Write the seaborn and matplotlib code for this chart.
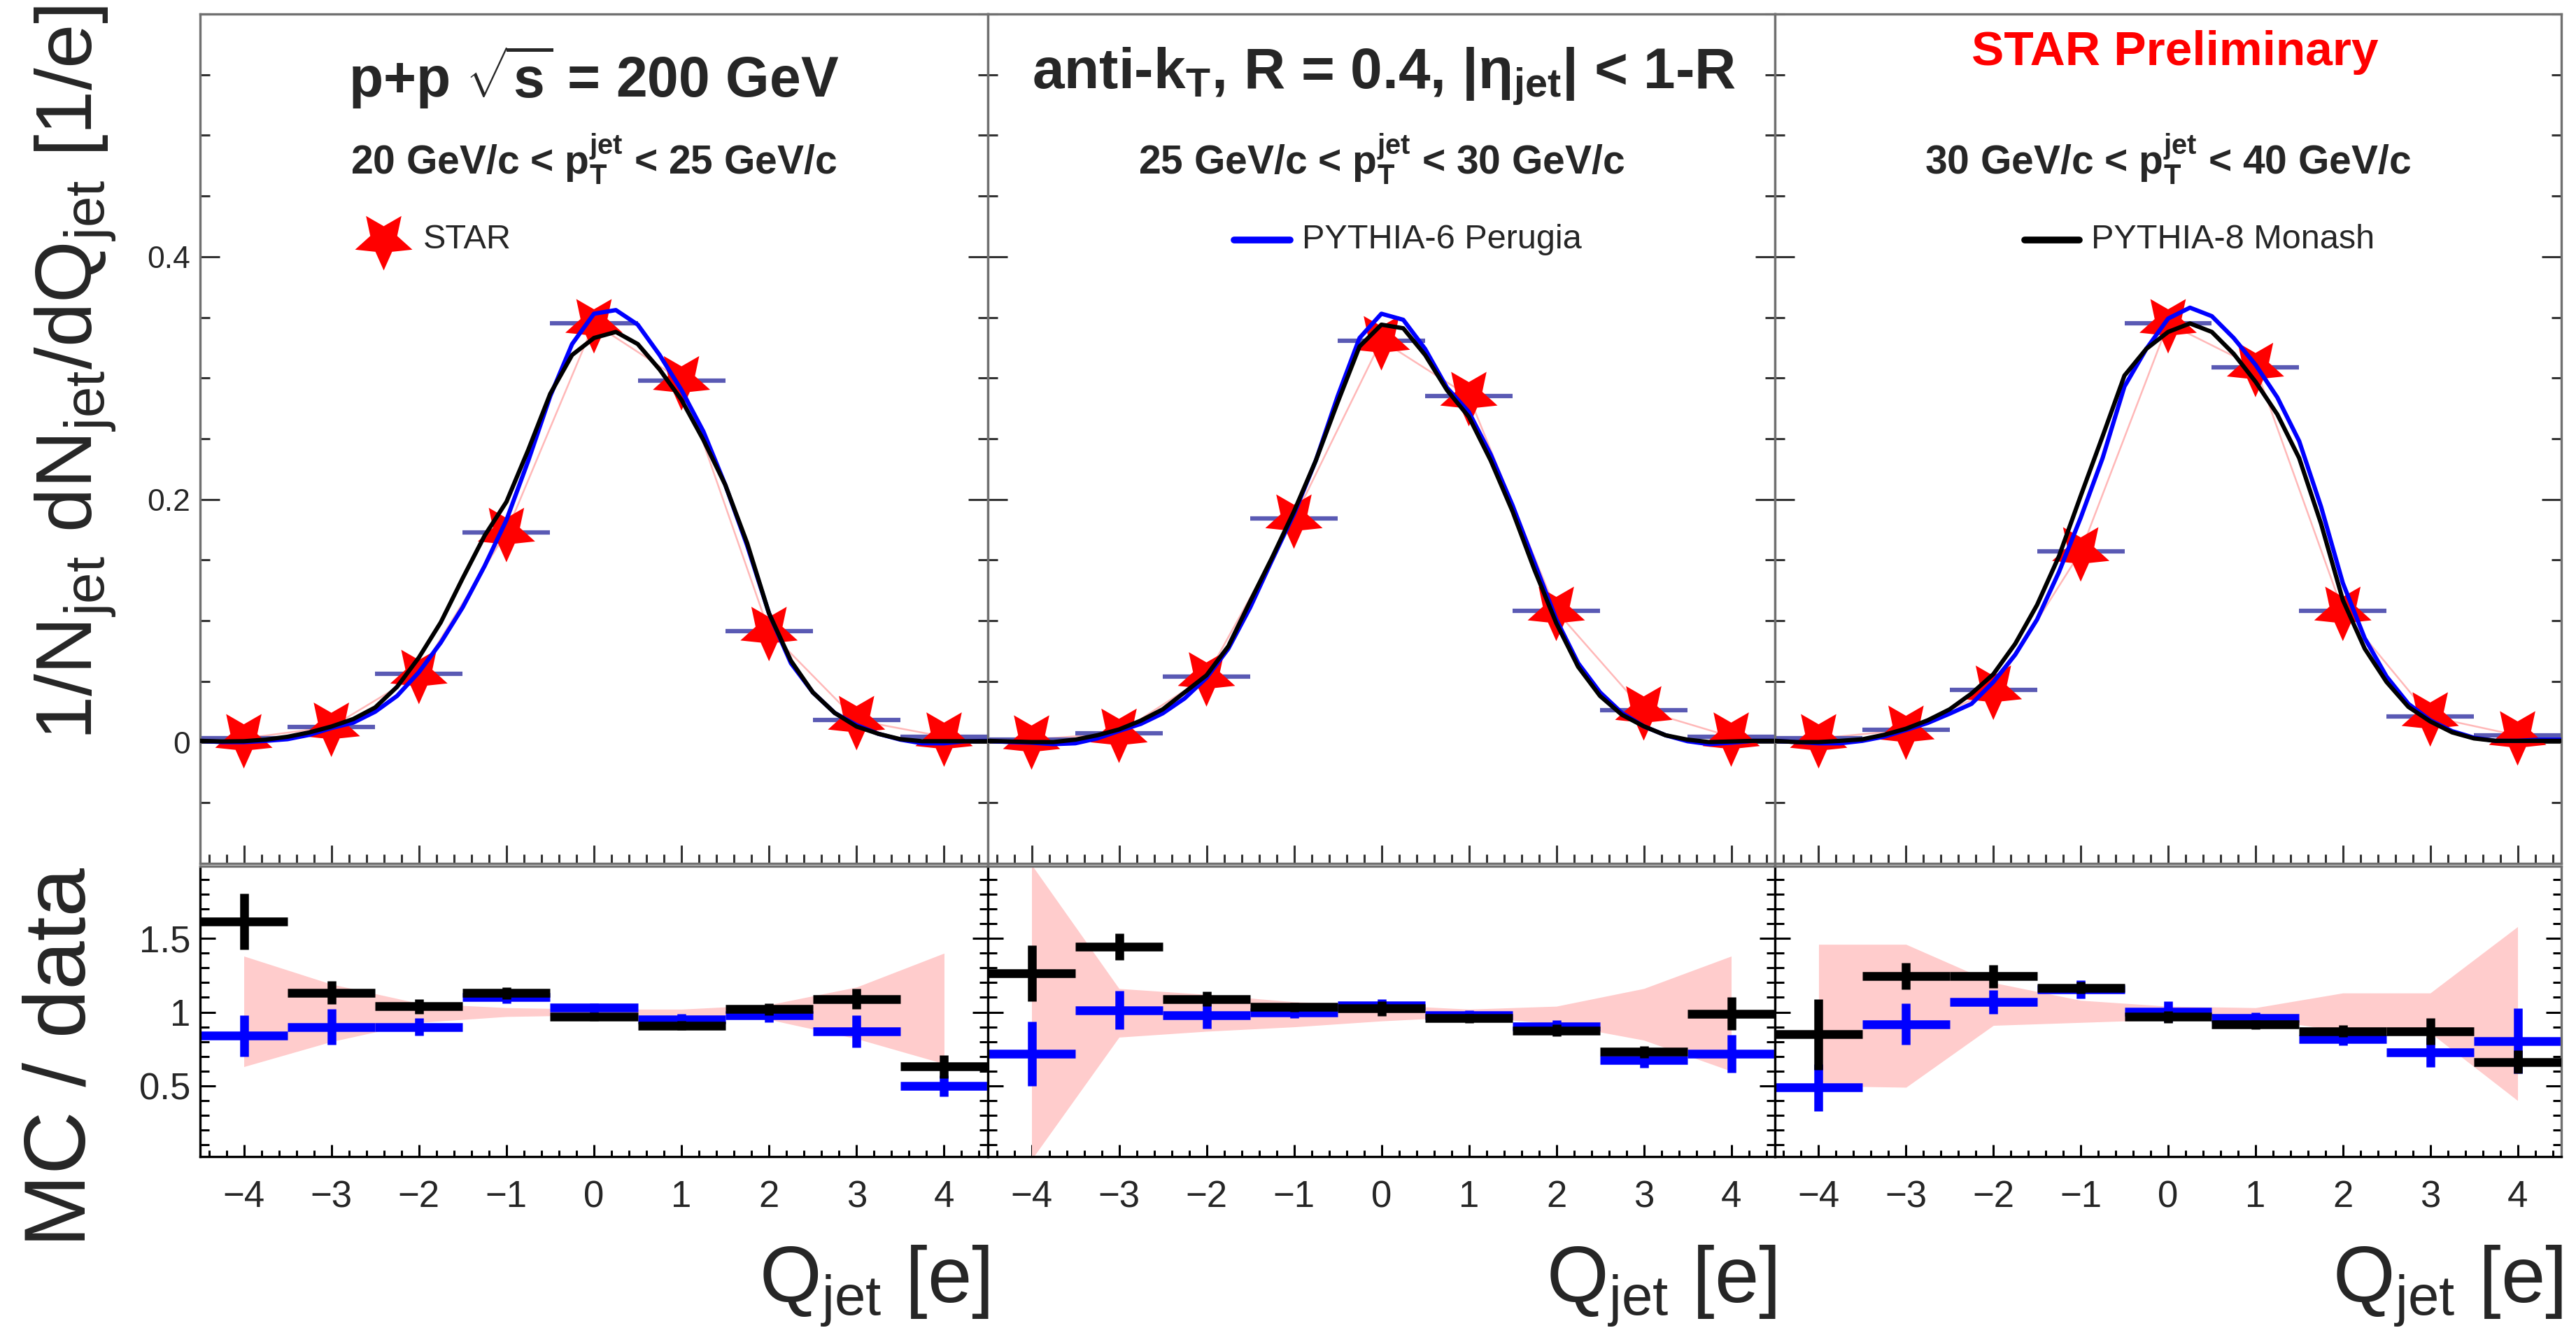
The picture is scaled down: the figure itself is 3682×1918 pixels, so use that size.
import numpy as np
import pandas as pd
import matplotlib
matplotlib.use("Agg")
import matplotlib.pyplot as plt
from matplotlib.markers import MarkerStyle
from matplotlib.path import Path
from matplotlib.ticker import MultipleLocator, FixedLocator, NullFormatter
import seaborn as sns

# ---------------- data ----------------
q_bins = [-4, -3, -2, -1, 0, 1, 2, 3, 4]
q_curve = [-4.5, -4.25, -4.0, -3.75, -3.5, -3.25, -3.0, -2.75, -2.5, -2.25, -2.0,
           -1.75, -1.5, -1.25, -1.0, -0.75, -0.5, -0.25, 0.0, 0.25, 0.5, 0.75,
           1.0, 1.25, 1.5, 1.75, 2.0, 2.25, 2.5, 2.75, 3.0, 3.25, 3.5, 3.75,
           4.0, 4.25, 4.5]

pt_titles = ["20 GeV/c < p$_{\\mathbf{T}}^{\\mathbf{jet}}$ < 25 GeV/c",
             "25 GeV/c < p$_{\\mathbf{T}}^{\\mathbf{jet}}$ < 30 GeV/c",
             "30 GeV/c < p$_{\\mathbf{T}}^{\\mathbf{jet}}$ < 40 GeV/c"]

star_pt1 = [0.003, 0.0125, 0.056, 0.173, 0.345, 0.298, 0.0914, 0.018, 0.0044]
star_pt2 = [0.002, 0.0075, 0.054, 0.184, 0.331, 0.285, 0.108, 0.026, 0.0044]
star_pt3 = [0.003, 0.010, 0.043, 0.157, 0.345, 0.309, 0.108, 0.021, 0.0054]

py6_pt1 = [0.001, 0.0, 0.0, 0.001, 0.0024, 0.006, 0.0116, 0.016, 0.025, 0.038, 0.0576,
           0.082, 0.111, 0.145, 0.183, 0.232, 0.285, 0.328, 0.353, 0.356, 0.344, 0.319,
           0.290, 0.256, 0.212, 0.162, 0.106, 0.065, 0.041, 0.024, 0.014, 0.0068, 0.002,
           -0.001, -0.001, 0.0007, 0.001]
py8_pt1 = [0.001, 0.0005, 0.0007, 0.002, 0.0044, 0.008, 0.0128, 0.019, 0.0285, 0.0455, 0.0697,
           0.0987, 0.135, 0.170, 0.198, 0.241, 0.287, 0.319, 0.333, 0.338, 0.328, 0.307,
           0.282, 0.249, 0.212, 0.164, 0.106, 0.067, 0.041, 0.024, 0.0128, 0.0068, 0.0024,
           0.0007, 0.0007, 0.0007, 0.0007]
py6_pt2 = [0.001, 0.0, -0.0005, -0.0017, -0.001, 0.003, 0.0092, 0.015, 0.0237, 0.036, 0.053,
           0.077, 0.111, 0.150, 0.188, 0.232, 0.285, 0.333, 0.353, 0.348, 0.324, 0.292,
           0.272, 0.237, 0.195, 0.148, 0.101, 0.065, 0.041, 0.024, 0.013, 0.0056, 0.0007,
           -0.0017, -0.0005, 0.001, 0.001]
py8_pt2 = [0.001, 0.0005, 0.0, 0.0, 0.002, 0.0056, 0.0104, 0.0177, 0.027, 0.041, 0.055,
           0.079, 0.116, 0.152, 0.190, 0.232, 0.280, 0.326, 0.344, 0.341, 0.319, 0.290,
           0.268, 0.232, 0.190, 0.142, 0.098, 0.062, 0.038, 0.0225, 0.013, 0.0056, 0.002,
           0.0, 0.0005, 0.001, 0.001]
py6_pt3 = [0.001, 0.0, -0.001, -0.001, 0.001, 0.0045, 0.010, 0.0158, 0.0234, 0.0315, 0.0495,
           0.072, 0.101, 0.140, 0.185, 0.234, 0.293, 0.324, 0.349, 0.358, 0.351, 0.333,
           0.311, 0.284, 0.248, 0.194, 0.131, 0.0856, 0.054, 0.0315, 0.018, 0.009, 0.0036,
           0.001, 0.001, 0.002, 0.002]
py8_pt3 = [0.001, 0.0, 0.0, 0.001, 0.0023, 0.006, 0.011, 0.018, 0.027, 0.040, 0.056,
           0.081, 0.113, 0.153, 0.203, 0.252, 0.302, 0.324, 0.338, 0.345, 0.338, 0.320,
           0.297, 0.270, 0.234, 0.180, 0.117, 0.077, 0.0495, 0.029, 0.017, 0.008, 0.003,
           0.001, 0.001, 0.001, 0.001]

# ratio MC / data
r8_pt1 = [1.615, 1.133, 1.04, 1.13, 0.97, 0.91, 1.02, 1.09, 0.63]
r8e_pt1 = [0.19, 0.08, 0.05, 0.04, 0.03, 0.03, 0.04, 0.07, 0.08]
r6_pt1 = [0.84, 0.90, 0.90, 1.10, 1.03, 0.95, 0.98, 0.87, 0.50]
r6e_pt1 = [0.14, 0.12, 0.06, 0.04, 0.03, 0.04, 0.05, 0.11, 0.07]
r8_pt2 = [1.265, 1.444, 1.09, 1.035, 1.024, 0.958, 0.875, 0.73, 0.99]
r8e_pt2 = [0.19, 0.09, 0.05, 0.03, 0.05, 0.03, 0.04, 0.04, 0.11]
r6_pt2 = [0.718, 1.013, 0.98, 1.0, 1.046, 0.98, 0.904, 0.674, 0.718]
r6e_pt2 = [0.22, 0.13, 0.09, 0.04, 0.04, 0.03, 0.04, 0.05, 0.13]
r8_pt3 = [0.85, 1.243, 1.243, 1.166, 0.969, 0.915, 0.871, 0.871, 0.663]
r8e_pt3 = [0.24, 0.09, 0.08, 0.04, 0.04, 0.03, 0.04, 0.09, 0.08]
r6_pt3 = [0.488, 0.919, 1.07, 1.155, 1.002, 0.958, 0.816, 0.729, 0.805]
r6e_pt3 = [0.16, 0.14, 0.08, 0.06, 0.07, 0.04, 0.04, 0.10, 0.22]

# data uncertainty band (relative)
band_hi_pt1 = [1.38, 1.19, 1.06, 1.03, 1.02, 1.02, 1.05, 1.17, 1.40]
band_lo_pt1 = [0.63, 0.80, 0.93, 0.97, 0.98, 0.98, 0.95, 0.82, 0.65]
band_hi_pt2 = [2.00, 1.16, 1.12, 1.07, 1.05, 1.02, 1.04, 1.16, 1.38]
band_lo_pt2 = [0.00, 0.83, 0.87, 0.90, 0.94, 0.97, 0.92, 0.81, 0.60]
band_hi_pt3 = [1.46, 1.46, 1.20, 1.08, 1.04, 1.03, 1.13, 1.13, 1.58]
band_lo_pt3 = [0.50, 0.49, 0.91, 0.93, 0.95, 0.96, 0.87, 0.86, 0.40]

panels = [
    dict(star=star_pt1, py6=py6_pt1, py8=py8_pt1, r6=r6_pt1, r6e=r6e_pt1, r8=r8_pt1, r8e=r8e_pt1,
         bhi=band_hi_pt1, blo=band_lo_pt1, sub=pt_titles[0]),
    dict(star=star_pt2, py6=py6_pt2, py8=py8_pt2, r6=r6_pt2, r6e=r6e_pt2, r8=r8_pt2, r8e=r8e_pt2,
         bhi=band_hi_pt2, blo=band_lo_pt2, sub=pt_titles[1]),
    dict(star=star_pt3, py6=py6_pt3, py8=py8_pt3, r6=r6_pt3, r6e=r6e_pt3, r8=r8_pt3, r8e=r8e_pt3,
         bhi=band_hi_pt3, blo=band_lo_pt3, sub=pt_titles[2]),
]

# ---------------- style ----------------
sns.set_theme(style="ticks")
plt.rcParams['font.family'] = ['Liberation Sans', 'DejaVu Sans']
plt.rcParams['mathtext.fontset'] = 'custom'
plt.rcParams['mathtext.rm'] = 'Liberation Sans'
plt.rcParams['mathtext.it'] = 'Liberation Sans:italic'
plt.rcParams['mathtext.bf'] = 'Liberation Sans:bold'
plt.rcParams['axes.unicode_minus'] = False

W, H = 3682, 1918
fig = plt.figure(figsize=(W / 100, H / 100), dpi=100)
fig.patch.set_facecolor('white')

xs = [286, 1412, 2537, 3661]
top_y0, top_y1 = 20, 1234
bot_y0, bot_y1 = 1238, 1653

BLUE = '#0000ff'
BAR = '#5a5ab4'
RED = '#ff0000'
PINK = '#ffcccc'

# fat 5-point star, pointing down (as in the reference)
_ang = [-np.pi / 2 + k * np.pi / 5 for k in range(10)]
_rad = [1.0 if k % 2 == 0 else 0.47 for k in range(10)]
_verts = [(r * np.cos(a), r * np.sin(a)) for r, a in zip(_rad, _ang)] + [(0.0, -1.0)]
star_marker = MarkerStyle(Path(_verts, closed=True))
STAR_S = 62 ** 2

for i, p in enumerate(panels):
    x0, x1 = xs[i], xs[i + 1]
    axt = fig.add_axes([x0 / W, 1 - top_y1 / H, (x1 - x0) / W, (top_y1 - top_y0) / H])
    axb = fig.add_axes([x0 / W, 1 - bot_y1 / H, (x1 - x0) / W, (bot_y1 - bot_y0) / H])

    # ----- top panel -----
    curves = pd.DataFrame({
        'Q': q_curve * 2,
        'val': p['py6'] + p['py8'],
        'model': ['PYTHIA-6 Perugia'] * len(q_curve) + ['PYTHIA-8 Monash'] * len(q_curve),
    })
    axt.plot(q_bins, p['star'], color='#ffb8b8', lw=1.8, zorder=1)
    axt.errorbar(q_bins, p['star'], xerr=0.5, fmt='none', ecolor=BAR, elinewidth=4.5, zorder=2)
    stars = pd.DataFrame({'Q': q_bins, 'val': p['star']})
    sns.scatterplot(data=stars, x='Q', y='val', ax=axt, marker=star_marker, s=STAR_S,
                    color=RED, edgecolor='none', linewidth=0, zorder=3, legend=False)
    sns.lineplot(data=curves, x='Q', y='val', hue='model', ax=axt, sort=False, estimator=None,
                 palette={'PYTHIA-6 Perugia': BLUE, 'PYTHIA-8 Monash': 'black'},
                 lw=4.4, legend=False, zorder=4)
    axt.set_xlim(-4.5, 4.5)
    axt.set_ylim(-0.1, 0.6)
    axt.set_xlabel('')
    axt.set_ylabel('')
    axt.xaxis.set_major_locator(MultipleLocator(1))
    axt.xaxis.set_minor_locator(MultipleLocator(0.2))
    axt.yaxis.set_major_locator(FixedLocator([0, 0.2, 0.4]))
    axt.yaxis.set_minor_locator(MultipleLocator(0.05))
    axt.xaxis.set_major_formatter(NullFormatter())
    axt.tick_params(axis='x', which='both', direction='in', bottom=True, top=False,
                    labelbottom=False, width=2.2, color='#333333')
    axt.tick_params(axis='x', which='major', length=19)
    axt.tick_params(axis='x', which='minor', length=9.5)
    axt.tick_params(axis='y', which='both', direction='in', left=True, right=True,
                    width=2.2, color='#333333')
    axt.tick_params(axis='y', which='major', length=20, labelsize=32, pad=10)
    axt.tick_params(axis='y', which='minor', length=10)
    if i == 0:
        axt.set_yticklabels(['0', '0.2', '0.4'])
    else:
        axt.tick_params(axis='y', labelleft=False)
    for s in axt.spines.values():
        s.set_color('#707070')
        s.set_linewidth(2.4)

    # ----- bottom panel -----
    axb.fill_between(q_bins, p['blo'], p['bhi'], color=PINK, lw=0, zorder=1)
    axb.errorbar(q_bins, p['r6'], xerr=0.5, yerr=p['r6e'], fmt='none', ecolor=BLUE,
                 elinewidth=9, zorder=2)
    axb.errorbar(q_bins, p['r8'], xerr=0.5, yerr=p['r8e'], fmt='none', ecolor='black',
                 elinewidth=9, zorder=3)
    axb.set_xlim(-4.5, 4.5)
    axb.set_ylim(0.02, 1.99)
    axb.xaxis.set_major_locator(MultipleLocator(1))
    axb.xaxis.set_minor_locator(MultipleLocator(0.2))
    axb.yaxis.set_major_locator(FixedLocator([0.5, 1.0, 1.5]))
    axb.yaxis.set_minor_locator(MultipleLocator(0.1))
    axb.set_xticks(q_bins)
    axb.set_xticklabels([str(q) if q >= 0 else '\u2212' + str(-q) for q in q_bins])
    axb.tick_params(axis='x', which='both', direction='in', bottom=True, top=False,
                    width=2.2, color='black')
    axb.tick_params(axis='x', which='major', length=12, labelsize=38, pad=24)
    axb.tick_params(axis='x', which='minor', length=6.5)
    axb.tick_params(axis='y', which='both', direction='in', left=True, right=True,
                    width=2.2, color='black')
    axb.tick_params(axis='y', which='major', length=16, labelsize=38, pad=10)
    axb.tick_params(axis='y', which='minor', length=9)
    if i == 0:
        axb.set_yticklabels(['0.5', '1', '1.5'])
    else:
        axb.tick_params(axis='y', labelleft=False)
    axb.set_xlabel('')
    axb.set_ylabel('')
    for k, s in axb.spines.items():
        s.set_linewidth(2.4)
        s.set_color('black' if k in ('left', 'bottom') else '#707070')

    # x axis title
    fig.text((x1 + 2) / W, 1 - 1862 / H, r"Q$_{\mathrm{jet}}$ [e]", fontsize=82,
             ha='right', va='baseline')

    # pt-range subtitle
    axt.text(0.5, 0.829, p['sub'], transform=axt.transAxes, ha='center', va='center',
             fontsize=41, fontweight='bold')

    # legend entries and headers
    if i == 0:
        axt.scatter([0.233], [0.734], transform=axt.transAxes, marker=star_marker,
                    s=STAR_S, color=RED, lw=0, zorder=5)
        axt.text(0.283, 0.734, 'STAR', transform=axt.transAxes, ha='left', va='center',
                 fontsize=35)
        axt.text(0.5, 0.926, r"p+p $\sqrt{\mathbf{s}}$ = 200 GeV", transform=axt.transAxes,
                 ha='center', va='center', fontsize=58, fontweight='bold')
    elif i == 1:
        axt.plot([0.313, 0.384], [0.734, 0.734], transform=axt.transAxes, color=BLUE, lw=7)
        axt.text(0.399, 0.734, 'PYTHIA-6 Perugia', transform=axt.transAxes, ha='left',
                 va='center', fontsize=35)
        axt.text(0.503, 0.926,
                 r"anti-k$_{\mathbf{T}}$, R = 0.4, |$\mathbf{\eta}_{\mathbf{jet}}$| < 1-R",
                 transform=axt.transAxes, ha='center', va='center', fontsize=59,
                 fontweight='bold')
    else:
        axt.plot([0.318, 0.387], [0.734, 0.734], transform=axt.transAxes, color='black', lw=7)
        axt.text(0.402, 0.734, 'PYTHIA-8 Monash', transform=axt.transAxes, ha='left',
                 va='center', fontsize=35)
        axt.text(0.509, 0.955, 'STAR Preliminary', transform=axt.transAxes, ha='center',
                 va='center', fontsize=50, fontweight='bold', color=RED)

# y axis titles
fig.text(108 / W, 1 - 8 / H,
         r"1/N$_{\mathrm{jet}}$ dN$_{\mathrm{jet}}$/dQ$_{\mathrm{jet}}$ [1/e]",
         rotation=90, ha='center', va='top', fontsize=82)
fig.text(90 / W, 1 - 1511 / H, "MC / data", rotation=90, ha='center', va='center',
         fontsize=90)

fig.savefig('out.png', dpi=100, facecolor='white')
